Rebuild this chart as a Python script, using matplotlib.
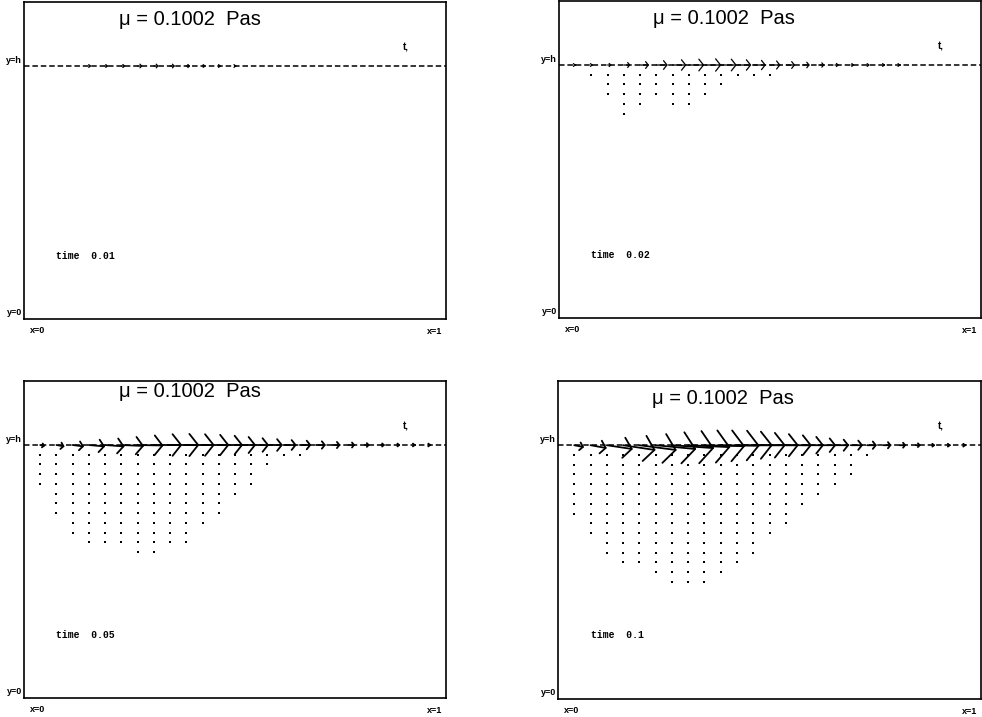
import numpy as np
import matplotlib
matplotlib.use("Agg")
import matplotlib.pyplot as plt

# ---------------- data ----------------
NGRID = 26                      # grid spacing = 1/26 in x and y (y=h is 1)
cols = list(range(1, 26))       # grid columns carrying surface vectors

times = ["0.01", "0.02", "0.05", "0.1"]
title_text = "\u03bc = 0.1002  Pas"

# surface (y = h) velocity, in grid spacings, columns 1..25
u_t001 = [0, 0, 0, 0.15, 0.2, 0.25, 0.3, 0.3, 0.3, 0.25, 0.2, 0.15, 0.1,
          0, 0, 0, 0, 0, 0, 0, 0, 0, 0, 0, 0]
v_t001 = [0] * 25
u_t002 = [0.05, 0.1, 0.25, 0.4, 0.55, 0.7, 0.85, 0.95, 1.0, 0.95, 0.85, 0.75,
          0.65, 0.55, 0.45, 0.35, 0.25, 0.2, 0.15, 0.1, 0.05, 0, 0, 0, 0]
v_t002 = [0] * 25
u_t005 = [0.3, 0.5, 0.7, 1.0, 1.2, 1.4, 1.6, 1.75, 1.8, 1.75, 1.65, 1.5,
          1.3, 1.1, 0.95, 0.8, 0.7, 0.6, 0.5, 0.4, 0.3, 0.25, 0.2, 0.15, 0.1]
v_t005 = [-0.1, -0.15, -0.15, -0.15, -0.15, -0.1, -0.05, 0, 0, 0, 0, 0,
          0, 0, 0, 0, 0, 0, 0, 0, 0, 0, 0, 0, 0]
u_t01 = [0.6, 1.0, 1.6, 2.0, 2.3, 2.5, 2.6, 2.6, 2.5, 2.4, 2.2, 2.0,
         1.8, 1.6, 1.35, 1.1, 0.9, 0.75, 0.6, 0.5, 0.4, 0.3, 0.2, 0.15, 0.1]
v_t01 = [-0.2, -0.3, -0.4, -0.5, -0.5, -0.4, -0.3, -0.2, -0.1, -0.05, 0, 0,
         0, 0, 0, 0, 0, 0, 0, 0, 0, 0, 0, 0, 0]

# interior points: for each row below the surface (1, 2, ...), the columns shown
dots_t001 = []
dots_t002 = [list(range(2, 14)), list(range(3, 11)), list(range(3, 10)),
             [4, 5, 7, 8], [4]]
rows_start_t005 = [1, 1, 1, 1, 2, 2, 2, 3, 3, 4, 7]
rows_end_t005 = [17, 15, 14, 14, 13, 12, 12, 11, 10, 10, 8]
rows_start_t01 = [1, 1, 1, 1, 1, 1, 1, 2, 2, 3, 3, 4, 6, 7]
rows_end_t01 = [19, 18, 18, 17, 16, 15, 14, 14, 13, 12, 12, 11, 10, 9]
dots_t005 = [list(range(a, b + 1)) for a, b in zip(rows_start_t005, rows_end_t005)]
dots_t01 = [list(range(a, b + 1)) for a, b in zip(rows_start_t01, rows_end_t01)]

panels = [
    (u_t001, v_t001, dots_t001),
    (u_t002, v_t002, dots_t002),
    (u_t005, v_t005, dots_t005),
    (u_t01, v_t01, dots_t01),
]

# ---------------- layout ----------------
W, H = 982, 717
fig = plt.figure(figsize=(W / 100, H / 100), dpi=100)
# pixel boxes (left, top, right, bottom)
boxes = [(24, 2, 446, 319), (559, 1, 981, 318), (24, 381, 446, 698), (558, 381, 981, 699)]
title_pos = [(0.393, 0.946), (0.391, 0.945), (0.393, 0.968), (0.391, 0.946)]
YMAX = 1.253
px_per_col = 422 / NGRID

for k, ((l, t, r, b), (u, v, dots)) in enumerate(zip(boxes, panels)):
    ax = fig.add_axes([l / W, 1 - b / H, (r - l) / W, (b - t) / H])
    ax.set_xlim(0, 1)
    ax.set_ylim(0, YMAX)
    ax.set_xticks([])
    ax.set_yticks([])
    for s in ax.spines.values():
        s.set_linewidth(1.2)
    ax.axhline(1.0, color="black", lw=1.1, ls=(0, (3.6, 1.9)), zorder=1)

    # surface arrows
    for c, uu, vv in zip(cols, u, v):
        if uu == 0 and vv == 0:
            continue
        x0, y0 = c / NGRID, 1.0
        x1, y1 = x0 + uu / NGRID, y0 + vv / NGRID
        L_pt = np.hypot(uu, vv) * px_per_col * 0.72
        hl = max(0.3 * L_pt, 1.2)
        hw = max(0.38 * L_pt, 1.0)
        lw = 0.9 if k < 2 else 1.3
        ax.annotate("", xy=(x1, y1), xytext=(x0, y0),
                    arrowprops=dict(arrowstyle=f"->,head_length={hl:.2f},head_width={hw:.2f}",
                                    mutation_scale=1, lw=lw, color="black",
                                    shrinkA=0, shrinkB=0), zorder=3)

    # interior points
    xs, ys = [], []
    for j, row in enumerate(dots, start=1):
        for c in row:
            xs.append(c / NGRID)
            ys.append(1.0 - j / NGRID)
    if xs:
        ax.scatter(xs, ys, s=2.0, marker="s", color="black", linewidths=0, zorder=2)

    tx, ty = title_pos[k]
    ax.text(tx, ty, title_text, transform=ax.transAxes, ha="center", va="center",
            fontsize=14.5, family="Liberation Sans")
    ax.text(0.077, 0.2, "time  " + times[k], transform=ax.transAxes, ha="left",
            va="center", fontsize=7, family="Liberation Mono", fontweight="bold")
    ax.text(0.905, 0.857, "t,", transform=ax.transAxes, ha="center", va="center",
            fontsize=7, family="Liberation Sans", fontweight="bold")

    lab = dict(fontsize=6.5, family="Liberation Sans", fontweight="bold")
    ax.annotate("y=h", xy=(0, 1.0), xycoords="data", xytext=(-1.5, 4),
                textcoords="offset points", ha="right", va="center", **lab)
    ax.annotate("y=0", xy=(0, 0), xycoords="data", xytext=(-1, 5),
                textcoords="offset points", ha="right", va="center", **lab)
    ax.annotate("x=0", xy=(0, 0), xycoords="data", xytext=(4, -8),
                textcoords="offset points", ha="left", va="center", **lab)
    ax.annotate("x=1", xy=(1, 0), xycoords="data", xytext=(-3, -9),
                textcoords="offset points", ha="right", va="center", **lab)

fig.savefig("out.png", dpi=100)
